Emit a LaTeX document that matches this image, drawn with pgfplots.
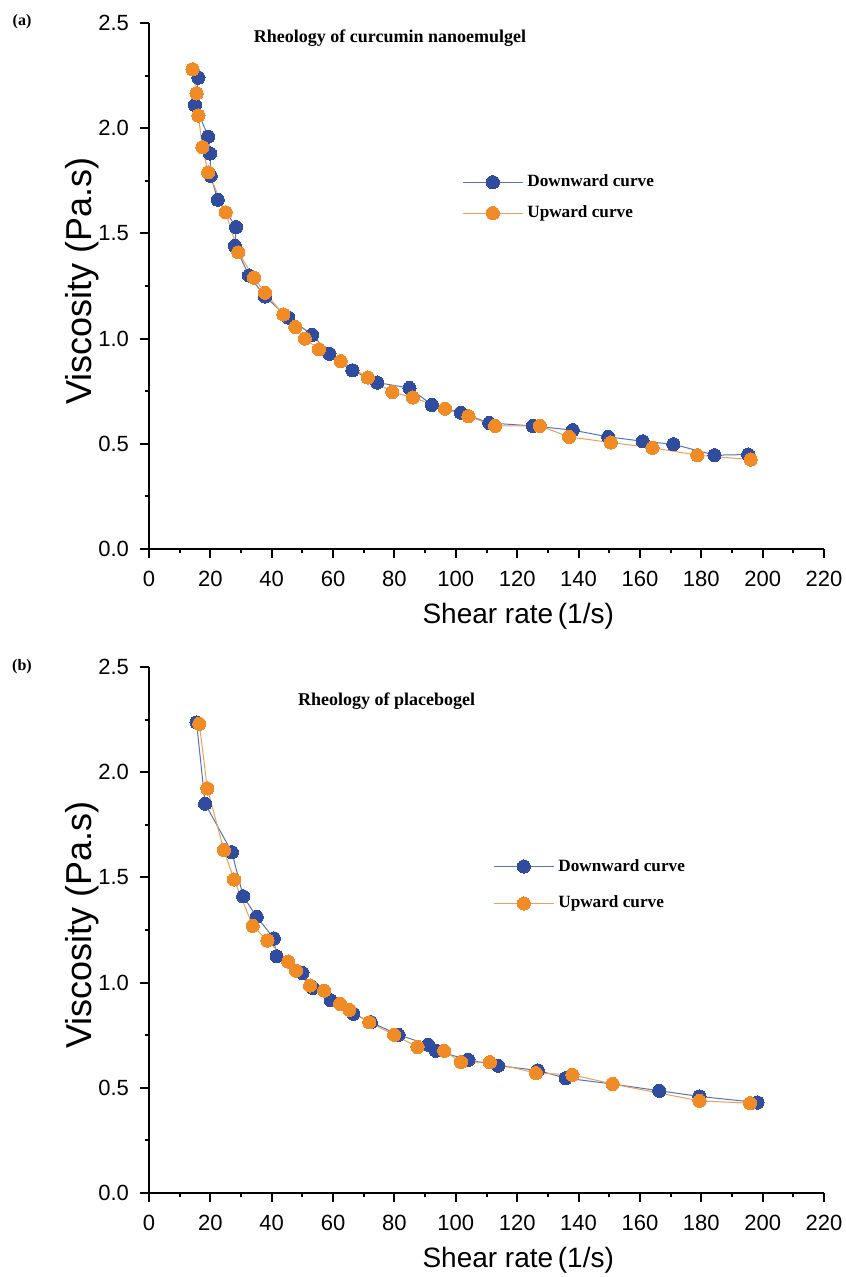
\documentclass[border=0pt]{standalone}
\usepackage{fontspec}
\setmainfont{Liberation Serif}
\newfontfamily\arial{Liberation Sans}
\usepackage{pgfplots}
\pgfplotsset{compat=1.18}

\definecolor{downblue}{HTML}{2F4C9F}
\definecolor{downline}{HTML}{5673BA}
\definecolor{uporange}{HTML}{F08B26}
\definecolor{upline}{HTML}{EC9F55}

\pgfplotsset{
  rheo/.style={
    scale only axis, width=337.5bp, height=263bp,
    xmin=0, xmax=220, ymin=0, ymax=2.5,
    axis x line*=bottom, axis y line*=left,
    axis line style={line width=1.2bp},
    tick align=outside,
    major tick style={line width=1bp, black},
    minor tick style={line width=1bp, black},
    major tick length=4.5bp, minor tick length=2.2bp,
    xtick={0,20,...,220}, ytick={0,0.5,...,2.5},
    minor x tick num=1, minor y tick num=1,
    /pgf/number format/assume math mode=true,
    ticklabel style={font=\arial\fontsize{11bp}{13bp}\selectfont},
    xticklabel style={yshift=-3bp},
    yticklabel style={xshift=-2bp, /pgf/number format/fixed, /pgf/number format/fixed zerofill, /pgf/number format/precision=1},
    xlabel={Shear rate\,(1/s)}, ylabel={Viscosity (Pa.s)},
    xlabel style={font=\arial\fontsize{14bp}{16bp}\selectfont, at={(axis description cs:0.547,-0.127)}, anchor=center},
    ylabel style={font=\arial\fontsize{18bp}{20bp}\selectfont, at={(axis description cs:-0.099,0.51)}, anchor=center},
    clip=false,
    legend cell align=left,
    legend image code/.code={\draw[mark repeat=2,mark phase=2] plot coordinates {(0bp,0bp)(15bp,0bp)(30bp,0bp)};},
  },
  down/.style={draw=downline, line width=0.5bp, mark=*, mark size=3.3bp, mark options={draw=downblue, fill=downblue, line width=0pt}},
  up/.style={draw=upline, line width=0.5bp, mark=*, mark size=3.3bp, mark options={draw=uporange, fill=uporange, line width=0pt}},
}

\begin{document}
\begin{tikzpicture}
\useasboundingbox (0,0) rectangle (423bp,-638.5bp);

% (a) curcumin nanoemulgel
\begin{axis}[rheo, at={(74.5bp,-274.5bp)}, anchor=south west,
  legend style={at={(axis cs:102,1.670)}, anchor=west, draw=none, fill=none,
    inner sep=0pt, row sep=4bp, font=\bfseries\fontsize{8.6bp}{10.5bp}\selectfont}]
\addplot[down] coordinates {(16.1,2.24)(15.0,2.11)(19.3,1.96)(19.9,1.88)(20.1,1.774)(22.4,1.66)(28.4,1.53)(28.0,1.44)(32.6,1.30)(37.8,1.20)(45.4,1.10)(53.2,1.018)(58.8,0.928)(66.3,0.849)(74.4,0.791)(84.9,0.765)(92.2,0.685)(101.6,0.648)(110.9,0.599)(125.1,0.585)(138.1,0.565)(149.7,0.533)(160.9,0.512)(170.9,0.498)(184.3,0.446)(195.3,0.449)};
\addlegendentry{Downward curve}
\addplot[up] coordinates {(14.2,2.28)(15.5,2.165)(16.1,2.06)(17.4,1.91)(19.3,1.79)(25.0,1.60)(29.1,1.41)(34.2,1.29)(37.8,1.218)(43.8,1.115)(47.7,1.055)(50.8,1.00)(55.4,0.949)(62.5,0.893)(71.3,0.815)(79.3,0.746)(86.0,0.72)(96.5,0.667)(104.1,0.631)(112.8,0.585)(127.4,0.585)(136.9,0.533)(150.5,0.506)(164.1,0.481)(178.7,0.446)(196.1,0.425)};
\addlegendentry{Upward curve}
\node[anchor=west, font=\bfseries\fontsize{9bp}{11bp}\selectfont] at (axis cs:31.9,2.43) {Rheology of curcumin nanoemulgel};
\end{axis}

% (b) placebogel
\begin{axis}[rheo, at={(74.5bp,-596.5bp)}, anchor=south west,
  legend style={at={(axis cs:112.1,1.464)}, anchor=west, draw=none, fill=none,
    inner sep=0pt, row sep=7bp, font=\bfseries\fontsize{8.6bp}{10.5bp}\selectfont}]
\addplot[down] coordinates {(15.5,2.236)(18.3,1.85)(27.0,1.62)(30.7,1.41)(35.1,1.313)(40.7,1.21)(41.6,1.125)(50.0,1.046)(53.4,0.975)(59.2,0.916)(66.6,0.852)(72.3,0.812)(81.3,0.752)(91.0,0.705)(93.5,0.676)(104.1,0.633)(113.8,0.605)(126.7,0.583)(135.8,0.546)(151.1,0.518)(166.3,0.486)(179.4,0.459)(198.3,0.430)};
\addlegendentry{Downward curve}
\addplot[up] coordinates {(16.4,2.23)(19.0,1.923)(24.4,1.63)(27.7,1.49)(33.8,1.27)(38.6,1.20)(45.4,1.10)(47.9,1.057)(52.5,0.986)(57.1,0.962)(62.3,0.899)(65.3,0.871)(71.8,0.811)(79.9,0.752)(87.5,0.694)(96.2,0.676)(101.7,0.622)(111.1,0.622)(126.1,0.570)(138.0,0.562)(151.1,0.518)(179.4,0.438)(195.9,0.427)};
\addlegendentry{Upward curve}
\node[anchor=west, font=\bfseries\fontsize{9bp}{11bp}\selectfont] at (axis cs:46.3,2.338) {Rheology of placebogel};
\end{axis}

\node[font=\bfseries\fontsize{8bp}{10bp}\selectfont] at (11bp,-11bp) {(a)};
\node[font=\bfseries\fontsize{8bp}{10bp}\selectfont] at (11bp,-333.5bp) {(b)};
\end{tikzpicture}
\end{document}
